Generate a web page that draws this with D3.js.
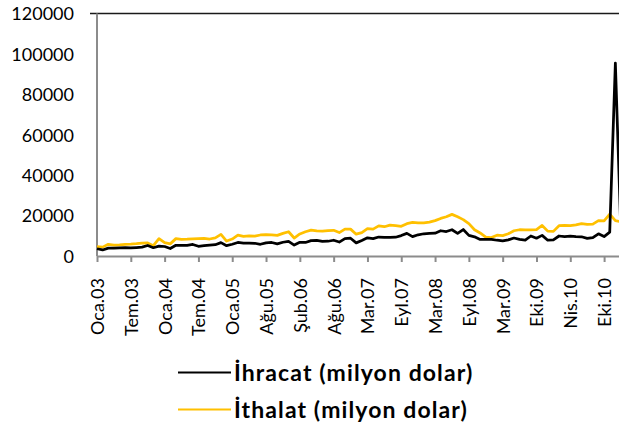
<!DOCTYPE html>
<html>
<head>
<meta charset="utf-8">
<script src="https://cdn.jsdelivr.net/npm/d3@7/dist/d3.min.js"></script>
<style>
  html, body { margin: 0; padding: 0; background: #fff; }
  svg { display: block; font-family: Lato, "Open Sans", sans-serif; }
</style>
</head>
<body>
<svg id="chart" width="619" height="429"></svg>
<script>
// Monthly categories (Turkish month abbreviations)
const categories = [
  "Oca.03","Şub.03","Mar.03","Nis.03","May.03","Haz.03","Tem.03","Ağu.03","Eyl.03","Eki.03","Kas.03","Ara.03",
  "Oca.04","Şub.04","Mar.04","Nis.04","May.04","Haz.04","Tem.04","Ağu.04","Eyl.04","Eki.04","Kas.04","Ara.04",
  "Oca.05","Şub.05","Mar.05","May.05","Haz.05","Tem.05","Ağu.05","Eyl.05","Eki.05","Kas.05","Ara.05",
  "Oca.06","Şub.06","Mar.06","Nis.06","May.06","Haz.06","Tem.06","Ağu.06","Eyl.06","Eki.06","Kas.06","Ara.06",
  "Şub.07","Mar.07","Nis.07","May.07","Haz.07","Tem.07","Ağu.07","Eyl.07","Eki.07","Kas.07","Ara.07",
  "Oca.08","Şub.08","Mar.08","Nis.08","May.08","Haz.08","Tem.08","Ağu.08","Eyl.08","Eki.08","Kas.08","Ara.08",
  "Oca.09","Şub.09","Mar.09","Nis.09","May.09","Haz.09","Tem.09","Eyl.09","Eki.09","Kas.09","Ara.09",
  "Oca.10","Şub.10","Mar.10","Nis.10","May.10","Haz.10","Tem.10","Ağu.10","Eyl.10","Eki.10","Kas.10","Ara.10",
  "Oca.11"
];

// Exports, million USD
const ihracat = [
  3600, 3000, 3900, 3900, 4000, 4100, 4000, 4200, 4400, 5200, 4100, 4900,
  4700, 3700, 5300, 5200, 5300, 5700, 4800, 5100, 5400, 5600, 6600, 5100,
  5800, 6700, 6400, 6400, 6300, 5800, 6500, 6700, 6000, 6800, 7200,
  5400, 6800, 6700, 7600, 7700, 7200, 7300, 7800, 6900, 8600, 8800, 6500,
  7700, 9000, 8600, 9400, 9200, 9200, 9300, 10100, 11200, 9600, 10500,
  11000, 11200, 11300, 12500, 12100, 13000, 11200, 13100, 10200, 9500, 8200, 8200,
  8200, 7800, 7500, 8000, 8900, 8200, 7900, 9900, 8800, 10200, 7800,
  8000, 9900, 9600, 9800, 9600, 9500, 8700, 9100, 11000, 9600, 11800, 95500,
  10000
];

// Imports, million USD
const ithalat = [
  4600, 4400, 5800, 5400, 5500, 5800, 5900, 6100, 6400, 6500, 5100, 8600,
  6600, 6000, 8600, 8200, 8300, 8500, 8600, 8700, 8400, 9000, 10700, 7400,
  8400, 10300, 9700, 10000, 9800, 10400, 10600, 10500, 10200, 11200, 12000,
  8900, 10900, 12000, 12800, 12400, 12300, 12600, 12700, 11600, 13300, 13300, 10800,
  11600, 13500, 13300, 14900, 14500, 15300, 15000, 14700, 16000, 16600, 16400,
  16400, 16800, 17500, 18600, 19400, 20600, 19400, 18000, 16000, 13000, 11400, 9300,
  9100, 10300, 10100, 11000, 12500, 13000, 12900, 12900, 13100, 15100, 12300,
  12200, 15000, 15100, 15000, 15400, 16000, 15600, 15800, 17500, 17400, 20700, 17500,
  17000
];

const yTicks = [0, 20000, 40000, 60000, 80000, 100000, 120000];
const xTickLabels = ["Oca.03","Tem.03","Oca.04","Tem.04","Oca.05","Ağu.05","Şub.06","Ağu.06",
                     "Mar.07","Eyl.07","Mar.08","Eyl.08","Mar.09","Eki.09","Nis.10","Eki.10"];

const seriesNames = ["İhracat (milyon dolar)", "İthalat (milyon dolar)"];
const seriesColors = ["#000000", "#FFC000"];

const svg = d3.select("#chart");
const plot = { left: 97, top: 13.5, bottom: 256, right: 621 };

const x = d3.scalePoint().domain(categories).range([plot.left, plot.right]);
const y = d3.scaleLinear().domain([0, 120000]).range([plot.bottom, plot.top]);

// top frame line of the plot area
svg.append("line")
  .attr("x1", plot.left - 7).attr("x2", 619)
  .attr("y1", y(120000)).attr("y2", y(120000))
  .attr("stroke", "#1a1a1a").attr("stroke-width", 1.6);

// y axis (labels only, line drawn separately)
const yAxis = svg.append("g")
  .attr("transform", `translate(${plot.left},0)`)
  .call(d3.axisLeft(y).tickValues(yTicks).tickSize(0).tickPadding(23).tickFormat(d3.format("d")));
yAxis.select(".domain").remove();
yAxis.selectAll("text")
  .attr("font-family", "Lato, 'Open Sans', sans-serif")
  .attr("font-size", 18)
  .attr("fill", "#000")
  .attr("dy", "0.35em");

svg.append("line")
  .attr("x1", plot.left).attr("x2", plot.left)
  .attr("y1", plot.top).attr("y2", plot.bottom)
  .attr("stroke", "#8c8c8c").attr("stroke-width", 2);

// x axis
const xAxis = svg.append("g")
  .attr("transform", `translate(0,${plot.bottom})`)
  .call(d3.axisBottom(x).tickValues(xTickLabels).tickSize(6).tickSizeOuter(0));
xAxis.select(".domain").attr("stroke", "#8c8c8c").attr("stroke-width", 2);
xAxis.selectAll(".tick line").attr("stroke", "#8c8c8c").attr("stroke-width", 2);
xAxis.selectAll("text")
  .attr("font-family", "Lato, 'Open Sans', sans-serif")
  .attr("font-size", 18)
  .attr("fill", "#000")
  .attr("text-anchor", "end")
  .attr("transform", "rotate(-90)")
  .attr("x", -22)
  .attr("y", 0)
  .attr("dy", "0.36em");

// series lines
const line = d3.line()
  .x((d, i) => x(categories[i]))
  .y(d => y(d));

[ithalat, ihracat].forEach((vals, k) => {
  svg.append("path")
    .datum(vals)
    .attr("fill", "none")
    .attr("stroke", k === 0 ? seriesColors[1] : seriesColors[0])
    .attr("stroke-width", 2.75)
    .attr("stroke-linejoin", "round")
    .attr("d", line);
});

// legend
const legend = svg.append("g");
seriesNames.forEach((name, i) => {
  const gy = 372.5 + i * 37;
  legend.append("line")
    .attr("x1", 178).attr("x2", 231)
    .attr("y1", gy).attr("y2", gy)
    .attr("stroke", seriesColors[i]).attr("stroke-width", 2);
  legend.append("text")
    .attr("x", 234).attr("y", gy)
    .attr("dy", "0.35em")
    .attr("font-family", "Lato, 'Open Sans', sans-serif")
    .attr("font-weight", "bold")
    .attr("font-size", 23)
    .attr("letter-spacing", 1.1)
    .attr("fill", "#000")
    .text(name);
});
</script>
</body>
</html>
